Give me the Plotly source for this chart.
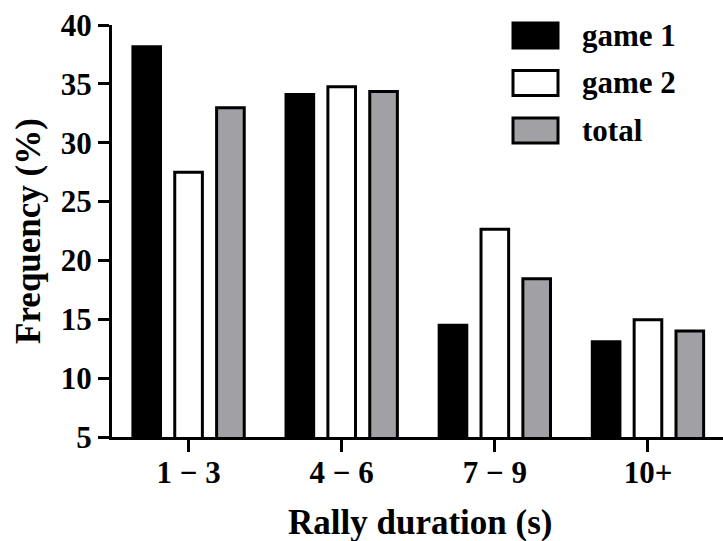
import plotly.graph_objects as go

categories = ["1 − 3", "4 − 6", "7 − 9", "10+"]
game1 = [38.15, 34.1, 14.5, 13.1]
game2 = [27.5, 34.75, 22.65, 14.95]
total = [32.97, 34.35, 18.45, 14.0]
series_names = ["game 1", "game 2", "total"]
series_fills = ["#000000", "#ffffff", "#a1a1a5"]
y_ticks = [5, 10, 15, 20, 25, 30, 35, 40]
x_title = "Rally duration (s)"
y_title = "Frequency (%)"

FONT = "Liberation Serif"
W, H = 723, 541
ML, MR, MT, MB = 112, 0, 25, 104

fig = go.Figure()
for name, vals, fill in zip(series_names, [game1, game2, total], series_fills):
    fig.add_trace(go.Bar(
        x=categories, y=vals, name=name,
        marker=dict(color=fill, line=dict(color="#000000", width=3)),
        showlegend=False,
    ))

# custom legend swatches sized like the reference
pw = W - ML - MR
ph = H - MT - MB
def px_to_paper_x(px):
    return (px - ML) / pw
def px_to_paper_y(py):
    return (H - MB - py) / ph

shapes = []
annotations = []
for i, (name, fill) in enumerate(zip(series_names, series_fills)):
    top = 23 + i * 47.5
    shapes.append(dict(
        type="rect", xref="paper", yref="paper",
        x0=px_to_paper_x(513), x1=px_to_paper_x(558),
        y0=px_to_paper_y(top + 25), y1=px_to_paper_y(top),
        fillcolor=fill, line=dict(color="#000000", width=3),
    ))
    annotations.append(dict(
        xref="paper", yref="paper", x=px_to_paper_x(580), y=px_to_paper_y(top + 12),
        text=name, showarrow=False, xanchor="left", yanchor="middle",
        font=dict(family=FONT, size=31, color="#000000", weight="bold"),
    ))

# x axis title placed as in the reference
annotations.append(dict(
    xref="paper", yref="paper", x=px_to_paper_x(420), y=px_to_paper_y(522),
    text=x_title, showarrow=False, xanchor="center", yanchor="middle",
    font=dict(family=FONT, size=35, color="#000000", weight="bold"),
))

fig.update_layout(
    width=W, height=H,
    margin=dict(l=ML, r=MR, t=MT, b=MB),
    paper_bgcolor="white", plot_bgcolor="white",
    barmode="group", bargap=0.18, bargroupgap=0.34,
    shapes=shapes, annotations=annotations,
    font=dict(family=FONT, color="#000000"),
    xaxis=dict(
        range=[-0.5, 3.49], showgrid=False, zeroline=False,
        showline=True, linecolor="#000000", linewidth=3,
        ticks="outside", ticklen=12, tickwidth=3, tickcolor="#000000",
        ticklabelstandoff=-6, automargin=False,
        tickfont=dict(family=FONT, size=31, weight="bold"),
    ),
    yaxis=dict(
        range=[5, 40], tickvals=y_ticks, showgrid=False, zeroline=False,
        showline=True, linecolor="#000000", linewidth=3,
        ticks="outside", ticklen=11, tickwidth=3, tickcolor="#000000",
        tickfont=dict(family=FONT, size=31, weight="bold"),
        title=dict(text=y_title, standoff=10,
                   font=dict(family=FONT, size=35, weight="bold")),
    ),
)

fig.write_html("out.html", config={"displayModeBar": False},
               post_script="document.body.style.margin='0';")
